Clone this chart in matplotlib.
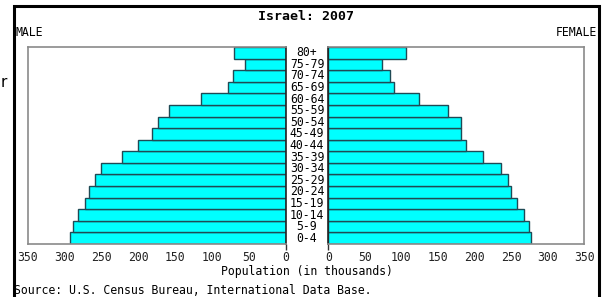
import numpy as np
import matplotlib
matplotlib.use("Agg")
from matplotlib import pyplot as plt
from matplotlib.patches import Rectangle

ageGroups = ['0-4', '5-9', '10-14', '15-19', '20-24', '25-29', '30-34', '35-39',
             '40-44', '45-49', '50-54', '55-59', '60-64', '65-69', '70-74', '75-79', '80+']
male = [292, 288, 282, 272, 266, 258, 250, 222, 200, 181, 173, 158, 115, 78, 71, 55, 70]
female = [277, 274, 267, 258, 250, 246, 236, 212, 188, 181, 182, 164, 124, 90, 84, 74, 106]
xTicks = [0, 50, 100, 150, 200, 250, 300, 350]

W, H = 608, 297
font = 'DejaVu Sans Mono'
fs = 8.3
barColor = '#00ffff'
edgeColor = '#1f4a55'
frameColor = '#8a8a8a'

fig = plt.figure(figsize=(W / 100, H / 100), dpi=100)
fig.patch.set_facecolor('white')

def fx(px):
    return px / W

def fy(py):
    return 1 - py / H

axL = fig.add_axes([fx(27.5), fy(244), fx(285.5 - 27.5), (244 - 47) / H])
axR = fig.add_axes([fx(328.3), fy(244), fx(584.3 - 328.3), (244 - 47) / H])

y = np.arange(len(ageGroups))
axL.barh(y, male, height=1.0, color=barColor, edgecolor=edgeColor, linewidth=1.0)
axR.barh(y, female, height=1.0, color=barColor, edgecolor=edgeColor, linewidth=1.0)

axL.set_xlim(350, 0)
axR.set_xlim(0, 350)
for ax in (axL, axR):
    ax.set_ylim(-0.5, len(ageGroups) - 0.5)
    ax.set_yticks([])
    ax.set_xticks(xTicks)
    ax.set_xticklabels([str(t) for t in xTicks], fontfamily=font, fontsize=fs,
                       color='#222222')
    ax.tick_params(axis='x', length=4, width=1, color='#333333', pad=1)
    # only the zero tick is drawn in the original
    for t, v in zip(ax.xaxis.get_major_ticks(), xTicks):
        if v != 0:
            t.tick1line.set_visible(False)
    for s in ax.spines.values():
        s.set_color(frameColor)
        s.set_linewidth(1.2)
axL.spines['right'].set_color('#222222')
axR.spines['left'].set_color('#222222')

# age labels between the panels
for i, lab in enumerate(ageGroups):
    yy = axL.transData.transform((0, i))[1]
    fig.text(fx(307), yy / fig.dpi / (H / 100), lab, ha='center', va='center',
             fontfamily=font, fontsize=fs)

fig.text(fx(306), fy(16), 'Israel: 2007', ha='center', va='center',
         fontfamily=font, fontsize=9.5, fontweight='bold')
fig.text(fx(15), fy(33), 'MALE', ha='left', va='center', fontfamily=font, fontsize=fs)
fig.text(fx(597), fy(33), 'FEMALE', ha='right', va='center', fontfamily=font, fontsize=fs)
fig.text(fx(307), fy(272), 'Population (in thousands)', ha='center', va='center',
         fontfamily=font, fontsize=fs)
fig.text(fx(14), fy(290), 'Source: U.S. Census Bureau, International Data Base.',
         ha='left', va='center', fontfamily=font, fontsize=fs)
fig.text(fx(1), fy(83), 'r', ha='left', va='center', fontfamily='DejaVu Sans', fontsize=11)

# outer black frame
fig.patches.append(Rectangle((fx(14), fy(310)), fx(599 - 14), (310 - 6) / H,
                             transform=fig.transFigure, fill=False,
                             edgecolor='black', linewidth=2.2))

fig.savefig('out.png', dpi=100)
